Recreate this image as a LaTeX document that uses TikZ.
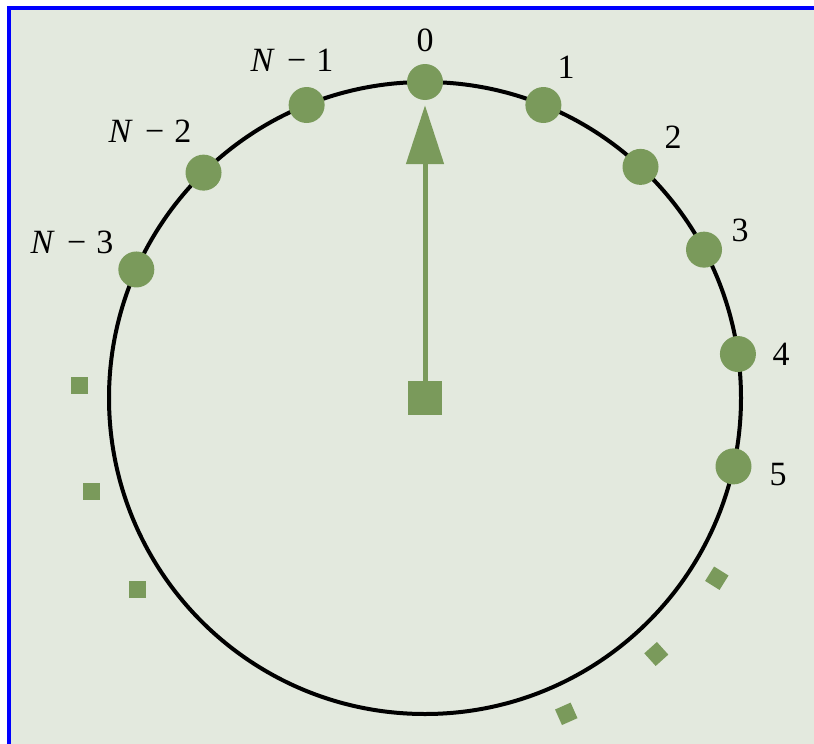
\documentclass[tikz,border=0pt]{standalone}
\usepackage{fontspec}
\setmainfont{LiberationSerif}[Extension=.ttf,UprightFont=*-Regular,ItalicFont=*-Italic,BoldFont=*-Bold]
\usetikzlibrary{arrows.meta}
\definecolor{bgc}{HTML}{E3E9DE}
\definecolor{grn}{HTML}{7A9A5B}
\definecolor{blu}{HTML}{0000FF}
\newcommand{\Nm}[1]{\textit{N}\hspace{0.36em}−\hspace{0.3em}#1}
\begin{document}
\begin{tikzpicture}[x=1pt,y=-1pt,
  dot/.style={circle,fill=grn,minimum size=36pt,inner sep=0pt},
  sq/.style={rectangle,fill=grn,minimum size=17pt,inner sep=0pt},
  lab/.style={anchor=base,font=\fontsize{34}{38}\selectfont,inner sep=0pt}]
\useasboundingbox (0,0) rectangle (814,744);
\fill[white] (0,0) rectangle (814,744);
\fill[bgc] (11,10) rectangle (814,744);
\fill[blu] (7,6) rectangle (814,10);
\fill[blu] (7,6) rectangle (11,744);
\coordinate (O) at (425,398);
\draw[line width=4pt] (O) circle[radius=316pt];
% nodes on the ring
\path (O) ++(90:316pt) node[dot] (n0) {};
\path (O) ++(68:316pt) node[dot] (n1) {};
\path (O) ++(47:316pt) node[dot] (n2) {};
\path (O) ++(28:316pt) node[dot] (n3) {};
\path (O) ++(8:316pt) node[dot] (n4) {};
\path (O) ++(-12.5:316pt) node[dot] (n5) {};
\path (O) ++(112:316pt) node[dot] (m1) {};
\path (O) ++(134.5:316pt) node[dot] (m2) {};
\path (O) ++(156:316pt) node[dot] (m3) {};
% centre and pointer
\node[rectangle,fill=grn,minimum size=34pt,inner sep=0pt] (c) at (O) {};
\draw[grn,line width=5pt,-{Triangle[width=37pt,length=59pt]}] (c.north) -- ([yshift=-5pt]n0.south);
% ellipsis squares
\path (O) ++(178:346pt) node[sq] (e1) {};
\path (O) ++(195.6:346pt) node[sq] (e2) {};
\path (O) ++(213.7:346pt) node[sq] (e3) {};
\path (O) ++(-31.7:343pt) node[sq,rotate=-32] (f1) {};
\path (O) ++(-47.9:345pt) node[sq,rotate=-48] (f2) {};
\path (O) ++(-65.9:346pt) node[sq,rotate=-66] (f3) {};
% labels
\node[lab] (l0) at (425,51) {0};
\node[lab] (l1) at (566,78) {1};
\node[lab] (l2) at (673,148) {2};
\node[lab] (l3) at (740,241) {3};
\node[lab] (l4) at (781,365) {4};
\node[lab] (l5) at (778,485) {5};
\node[lab] (lm1) at (292,71) {\Nm{1}};
\node[lab] (lm2) at (150,142) {\Nm{2}};
\node[lab] (lm3) at (72,253) {\Nm{3}};
\end{tikzpicture}
\end{document}
